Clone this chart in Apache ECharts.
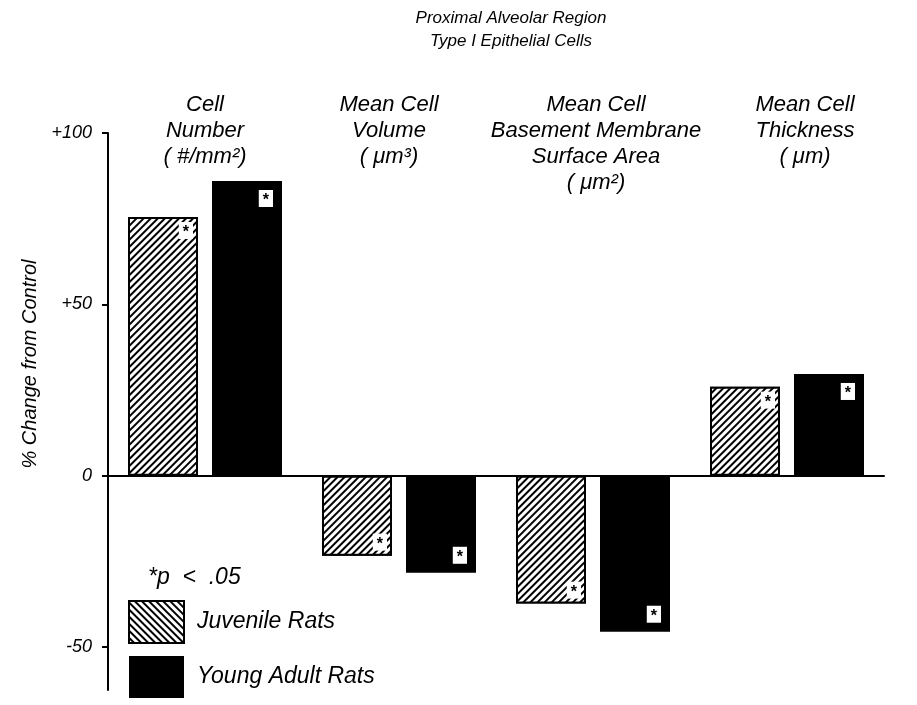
<!DOCTYPE html>
<html>
<head>
<meta charset="utf-8">
<script src="https://cdn.jsdelivr.net/npm/echarts@6/dist/echarts.min.js"></script>
<style>
  html, body { margin: 0; padding: 0; background: #fff; }
  #main { width: 917px; height: 705px; }
</style>
</head>
<body>
<div id="main"></div>
<script>
// categories across the top
var categories = [
  'Cell\nNumber\n( #/mm²)',
  'Mean Cell\nVolume\n( μm³)',
  'Mean Cell\nBasement Membrane\nSurface Area\n( μm²)',
  'Mean Cell\nThickness\n( μm)'
];
// % change from control
var juvenile = [75.5, -23.3, -37.3, 26];
var youngAdult = [86, -28.3, -45.5, 29.7];
var yTicks = [100, 50, 0, -50];

var FONT = '"Liberation Sans", Arial, sans-serif';

// nudge the column headers to where they sit in the figure
var labelPad = [[0, 0, 0, 0], [0, 20, 0, 0], [0, 0, 0, 6], [0, 0, 0, 36]];

function withStar(values) {
  return values.map(function (v) {
    return {
      value: v,
      label: { position: v >= 0 ? 'insideTopRight' : 'insideBottomRight' }
    };
  });
}

function starLabel(dist) {
  return {
    show: true,
    formatter: '*',
    distance: dist,
    color: '#000',
    fontSize: 16,
    fontWeight: 'bold',
    fontFamily: FONT,
    backgroundColor: '#fff',
    padding: [4, 4, 0, 4],
    lineHeight: 13
  };
}

var hatch = {
  symbol: 'rect',
  symbolSize: 1,
  color: '#000',
  backgroundColor: '#fff',
  dashArrayX: [1, 0],
  dashArrayY: [2, 3],
  rotation: -Math.PI / 4
};

var myChart = echarts.init(document.getElementById('main'));

var option = {
  backgroundColor: '#fff',
  animation: false,
  title: {
    text: 'Proximal Alveolar Region\nType I Epithelial Cells',
    left: 511,
    top: 7,
    padding: 0,
    textAlign: 'center',
    textStyle: {
      fontFamily: FONT, fontStyle: 'italic', fontWeight: 'normal',
      fontSize: 17, lineHeight: 23, color: '#000'
    }
  },
  legend: {
    orient: 'vertical',
    left: 128,
    top: 600,
    padding: 0,
    itemWidth: 55,
    itemHeight: 42,
    itemGap: 12,
    icon: 'rect',
    data: [{
      name: 'Juvenile Rats',
      itemStyle: { decal: Object.assign({}, hatch, { rotation: Math.PI / 4 }) }
    }, 'Young Adult Rats'],
    textStyle: {
      fontFamily: FONT, fontStyle: 'italic', fontSize: 23, color: '#000',
      padding: [0, 0, 0, 8]
    }
  },
  grid: [
    { left: 108, top: 133, right: 33, bottom: 15, outerBoundsMode: 'none' },
    { left: 108, top: 60, right: 33, height: 30, outerBoundsMode: 'none' }
  ],
  xAxis: [{
    type: 'category',
    data: categories,
    axisLine: { onZero: true, lineStyle: { color: '#000', width: 2 } },
    axisTick: { show: false },
    axisLabel: { show: false }
  }, {
    type: 'category',
    gridIndex: 1,
    data: categories.map(function (c, i) {
      return { value: c, textStyle: { padding: labelPad[i] } };
    }),
    axisLine: { show: false },
    axisTick: { show: false },
    axisLabel: {
      interval: 0,
      margin: 2,
      fontFamily: FONT, fontStyle: 'italic', fontSize: 22,
      lineHeight: 26, color: '#000'
    }
  }],
  yAxis: [{
    type: 'value',
    min: -62.5,
    max: 100,
    splitLine: { show: false },
    axisLine: { show: true, lineStyle: { color: '#000', width: 2 } },
    axisTick: {
      show: true, length: 6, customValues: yTicks,
      lineStyle: { color: '#000', width: 2 }
    },
    axisLabel: {
      customValues: yTicks,
      margin: 16,
      fontFamily: FONT, fontStyle: 'italic', fontSize: 18, color: '#000',
      formatter: function (v) { return v > 0 ? '+' + v : String(v); }
    }
  }, {
    type: 'value',
    gridIndex: 1,
    show: false
  }],
  graphic: [{
    type: 'text',
    left: 148,
    top: 566,
    style: {
      text: '*p  <  .05',
      font: 'italic 23px ' + FONT,
      fill: '#000'
    }
  }, {
    type: 'text',
    x: 30,
    y: 364,
    rotation: Math.PI / 2,
    style: {
      text: '% Change from Control',
      font: 'italic 20px ' + FONT,
      fill: '#000',
      align: 'center',
      verticalAlign: 'middle'
    }
  }],
  series: [{
    name: 'Juvenile Rats',
    type: 'bar',
    barWidth: 70,
    barGap: '20%',
    data: withStar(juvenile),
    label: starLabel(5),
    itemStyle: {
      color: '#fff',
      borderColor: '#000',
      borderWidth: 2,
      decal: hatch
    }
  }, {
    name: 'Young Adult Rats',
    type: 'bar',
    barWidth: 70,
    data: withStar(youngAdult),
    label: starLabel(9),
    itemStyle: { color: '#000' }
  }]
};

myChart.setOption(option);
</script>
</body>
</html>
